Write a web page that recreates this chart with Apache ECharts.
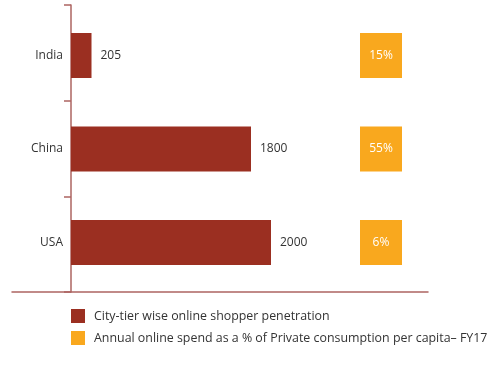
<!DOCTYPE html>
<html><head><meta charset="utf-8">
<script src="https://cdn.jsdelivr.net/npm/echarts@6/dist/echarts.min.js"></script>
<style>html,body{margin:0;padding:0;background:#fff}#c{width:504px;height:368px}</style>
</head><body><div id="c"></div>
<script>
const categories = ['India', 'China', 'USA'];
const shopperPenetration = [205, 1800, 2000];
const onlineSpendPct = [15, 55, 6];
const seriesNames = ['City-tier wise online shopper penetration', 'Annual online spend as a % of Private consumption per capita– FY17'];

const axisColor = '#ad6461';
const font = 'Open Sans';
const chart = echarts.init(document.getElementById('c'));
chart.setOption({
  animation: false,
  textStyle: {fontFamily: font},
  grid: [
    {left: 71, width: 300, top: 8.75, bottom: 78.75},
    {left: 360, width: 42, top: 8.75, bottom: 78.75},
    {left: 71, width: 300, top: 5, bottom: 76},
    {left: 12, right: 76, top: 5, bottom: 76}
  ],
  xAxis: [
    {gridIndex: 0, type: 'value', min: 0, max: 3000, show: false},
    {gridIndex: 1, type: 'category', data: ['pct'], show: false},
    {gridIndex: 2, type: 'value', min: 0, max: 1, show: false},
    {gridIndex: 3, type: 'value', min: 0, max: 1, axisLine: {show: true, lineStyle: {color: axisColor, width: 1.5}}, axisTick: {show: false}, axisLabel: {show: false}, splitLine: {show: false}}
  ],
  yAxis: [
    {gridIndex: 0, type: 'category', data: categories, inverse: true,
     axisLine: {show: false}, axisTick: {show: false},
     axisLabel: {color: '#333', fontSize: 12, margin: 8, fontFamily: font}},
    {gridIndex: 1, type: 'category', data: categories, inverse: true, show: false},
    {gridIndex: 2, type: 'category', data: categories, inverse: true,
     axisLine: {show: true, lineStyle: {color: axisColor, width: 1.5}},
     axisTick: {show: true, length: 7, lineStyle: {color: axisColor, width: 1.5}},
     axisLabel: {show: false}},
    {gridIndex: 3, type: 'value', show: false}
  ],
  legend: {
    orient: 'vertical', left: 66, top: 304, itemWidth: 14, itemHeight: 14, itemGap: 8,
    icon: 'rect', textStyle: {color: '#333', fontSize: 12.4, fontFamily: font, padding: [0, 0, 0, 4]},
    data: seriesNames
  },
  series: [
    {name: seriesNames[0], type: 'bar', xAxisIndex: 0, yAxisIndex: 0, barWidth: 45,
     itemStyle: {color: '#9b2f21'},
     label: {show: true, position: 'right', distance: 9, color: '#333', fontSize: 12, fontFamily: font},
     data: shopperPenetration},
    {name: seriesNames[1], type: 'scatter', xAxisIndex: 1, yAxisIndex: 1,
     symbol: 'rect', symbolSize: [42, 45],
     itemStyle: {color: '#f9a81e', opacity: 1},
     label: {show: true, position: 'inside', color: '#fff', fontSize: 12, fontFamily: font,
       formatter: p => p.value[2] + '%'},
     data: categories.map((c, i) => ['pct', c, onlineSpendPct[i]])}
  ]
});
</script></body></html>
